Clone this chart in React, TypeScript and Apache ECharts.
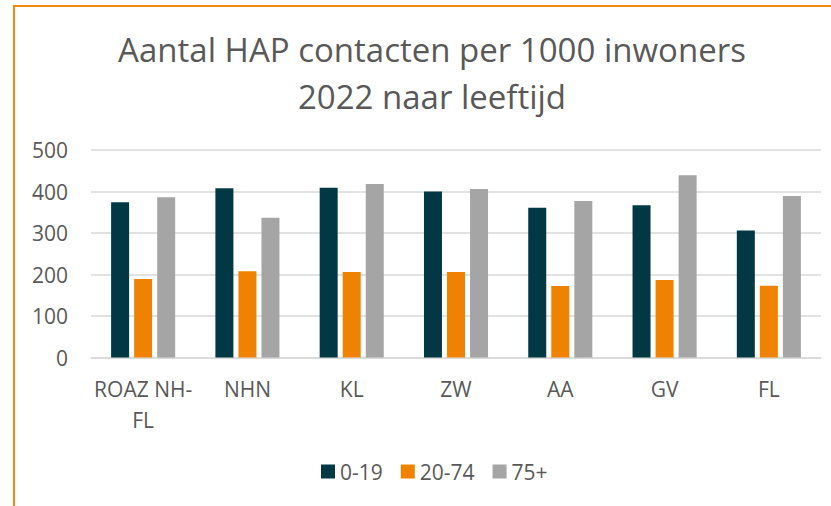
import React, { useEffect, useRef } from "react";
import * as echarts from "echarts";

const categories = ["ROAZ NH-FL", "NHN", "KL", "ZW", "AA", "GV", "FL"];
const age0_19 = [374, 408, 409, 400, 361, 367, 306];
const age20_74 = [189, 208, 206, 206, 172, 187, 173];
const age75plus = [386, 337, 418, 406, 377, 439, 389];
const seriesNames = ["0-19", "20-74", "75+"];
const colors = ["#023843", "#EF8200", "#A5A5A5"];

export default function App() {
  const ref = useRef<HTMLDivElement>(null);
  useEffect(() => {
    if (!ref.current) return;
    const chart = echarts.init(ref.current, undefined, { renderer: "svg" });
    const font = "'Open Sans', sans-serif";
    const textColor = "#595959";
    const data = [age0_19, age20_74, age75plus];
    chart.setOption({
      animation: false,
      backgroundColor: "#ffffff",
      textStyle: { fontFamily: font },
      title: {
        text: "Aantal HAP contacten per 1000 inwoners\n2022 naar leeftijd",
        left: 432,
        top: 26,
        textAlign: "center",
        padding: 0,
        textStyle: {
          fontFamily: font,
          fontWeight: "normal",
          fontSize: 33,
          lineHeight: 47,
          color: textColor,
        },
      },
      legend: {
        left: 321,
        top: 461,
        padding: 0,
        itemWidth: 14,
        itemHeight: 14,
        itemGap: 18,
        icon: "rect",
        textStyle: { fontFamily: font, fontSize: 21, color: textColor, lineHeight: 21 },
        data: seriesNames,
      },
      graphic: [
        {
          type: "rect",
          shape: { x: 14, y: 6, width: 900, height: 600 },
          style: { fill: "none", stroke: "#EF8A10", lineWidth: 2 },
          silent: true,
        },
      ],
      grid: { left: 91, right: 10, top: 150, bottom: 148.5 },
      xAxis: {
        type: "category",
        data: categories,
        axisTick: { show: false },
        axisLine: { lineStyle: { color: "#D9D9D9", width: 1.5 } },
        axisLabel: {
          interval: 0,
          margin: 16,
          fontFamily: font,
          fontSize: 21,
          lineHeight: 31,
          color: textColor,
          formatter: (v: string) => (v.length > 8 && v.includes("-") ? v.replace("-", "-\n") : v),
        },
      },
      yAxis: {
        type: "value",
        min: 0,
        max: 500,
        interval: 100,
        axisLine: { show: false },
        axisTick: { show: false },
        splitLine: { lineStyle: { color: "#D9D9D9", width: 1.5 } },
        axisLabel: { margin: 23, fontFamily: font, fontSize: 21, color: textColor },
      },
      series: seriesNames.map((name, i) => ({
        name,
        type: "bar",
        data: data[i],
        barWidth: 18,
        barGap: "28%",
        itemStyle: { color: colors[i] },
      })),
    });
    return () => chart.dispose();
  }, []);
  return (
    <div
      ref={ref}
      style={{ position: "fixed", left: 0, top: 0, width: 831, height: 506 }}
    />
  );
}
